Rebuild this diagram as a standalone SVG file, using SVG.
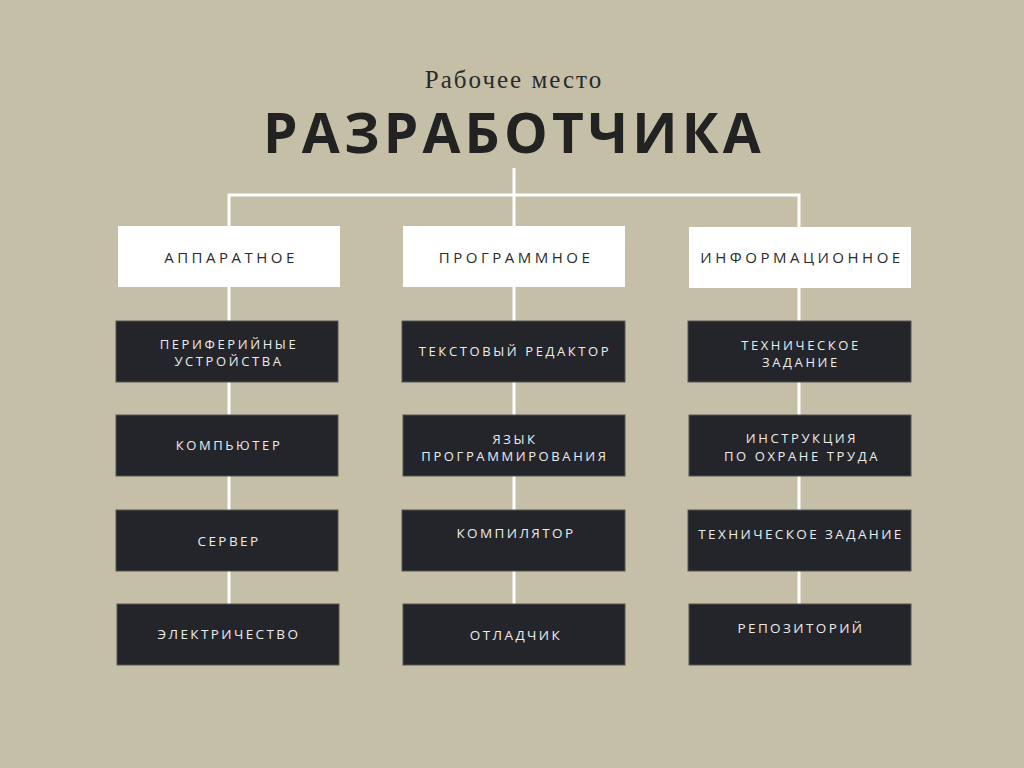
<svg xmlns="http://www.w3.org/2000/svg" width="1024" height="768" viewBox="0 0 1024 768">
<style>
.bg{fill:#c6bfa8}
.ln{stroke:#ffffff;stroke-width:3;fill:none}
.wb{fill:#ffffff}
.db{fill:#24252a;stroke:#55544f;stroke-width:1}
.wt{font-family:"Open Sans","Liberation Sans",sans-serif;font-size:15px;letter-spacing:3.5px;fill:#2a2a2a;text-anchor:middle}
.dt{font-family:"Open Sans","Liberation Sans",sans-serif;font-size:13px;letter-spacing:2.6px;fill:#ececec;text-anchor:middle}
.ct{font-family:"Open Sans","Liberation Sans",sans-serif;font-size:13.5px;letter-spacing:2.4px;fill:#ececec;text-anchor:middle}
</style>
<rect class="bg" x="0" y="0" width="1024" height="768"/>
<g id="title">
<text x="514" y="88" text-anchor="middle" font-family="Liberation Serif,serif" font-size="25" letter-spacing="2" fill="#2a2a2a">Рабочее место</text>
<text x="514" y="153" text-anchor="middle" font-family="Open Sans,Liberation Sans,sans-serif" font-weight="bold" font-size="55" letter-spacing="4.2" fill="#222222">РАЗРАБОТЧИКА</text>
</g>
<g id="connectors">
<path class="ln" d="M514 168V226M229 226V195H799V227M229 287V605M514 287V605M799 288V605"/>
</g>
<g id="n-hw"><rect class="wb" x="118" y="226" width="222" height="61"/><text class="wt" x="231" y="263">АППАРАТНОЕ</text></g>
<g id="n-sw"><rect class="wb" x="403" y="226" width="222" height="61"/><text class="wt" x="516" y="263">ПРОГРАММНОЕ</text></g>
<g id="n-info"><rect class="wb" x="689" y="227" width="222" height="61"/><text class="wt" x="802" y="263">ИНФОРМАЦИОННОЕ</text></g>

<g id="n-periph"><rect class="db" x="116" y="321" width="222" height="61"/><text class="dt" x="229" y="349">ПЕРИФЕРИЙНЫЕ</text><text class="dt" x="229" y="366">УСТРОЙСТВА</text></g>
<g id="n-pc"><rect class="db" x="116" y="415" width="222" height="61"/><text class="dt" x="229" y="450">КОМПЬЮТЕР</text></g>
<g id="n-server"><rect class="db" x="116" y="510" width="222" height="61"/><text class="ct" x="229" y="546">СЕРВЕР</text></g>
<g id="n-power"><rect class="db" x="117" y="604" width="222" height="61"/><text class="ct" x="229" y="639">ЭЛЕКТРИЧЕСТВО</text></g>

<g id="n-editor"><rect class="db" x="402" y="321" width="223" height="61"/><text class="dt" x="515" y="356">ТЕКСТОВЫЙ РЕДАКТОР</text></g>
<g id="n-lang"><rect class="db" x="403" y="415" width="222" height="61"/><text class="dt" x="515" y="444">ЯЗЫК</text><text class="dt" x="515" y="461">ПРОГРАММИРОВАНИЯ</text></g>
<g id="n-compiler"><rect class="db" x="402" y="510" width="223" height="61"/><text class="ct" x="516" y="538">КОМПИЛЯТОР</text></g>
<g id="n-debugger"><rect class="db" x="403" y="604" width="222" height="61"/><text class="ct" x="516" y="640">ОТЛАДЧИК</text></g>

<g id="n-spec1"><rect class="db" x="688" y="321" width="223" height="61"/><text class="dt" x="801" y="350">ТЕХНИЧЕСКОЕ</text><text class="dt" x="801" y="367">ЗАДАНИЕ</text></g>
<g id="n-safety"><rect class="db" x="689" y="415" width="222" height="61"/><text class="dt" x="802" y="443">ИНСТРУКЦИЯ</text><text class="dt" x="802" y="461">ПО ОХРАНЕ ТРУДА</text></g>
<g id="n-spec2"><rect class="db" x="688" y="510" width="223" height="61"/><text class="ct" x="801" y="539">ТЕХНИЧЕСКОЕ ЗАДАНИЕ</text></g>
<g id="n-repo"><rect class="db" x="689" y="604" width="222" height="61"/><text class="ct" x="801" y="633">РЕПОЗИТОРИЙ</text></g>
</svg>
